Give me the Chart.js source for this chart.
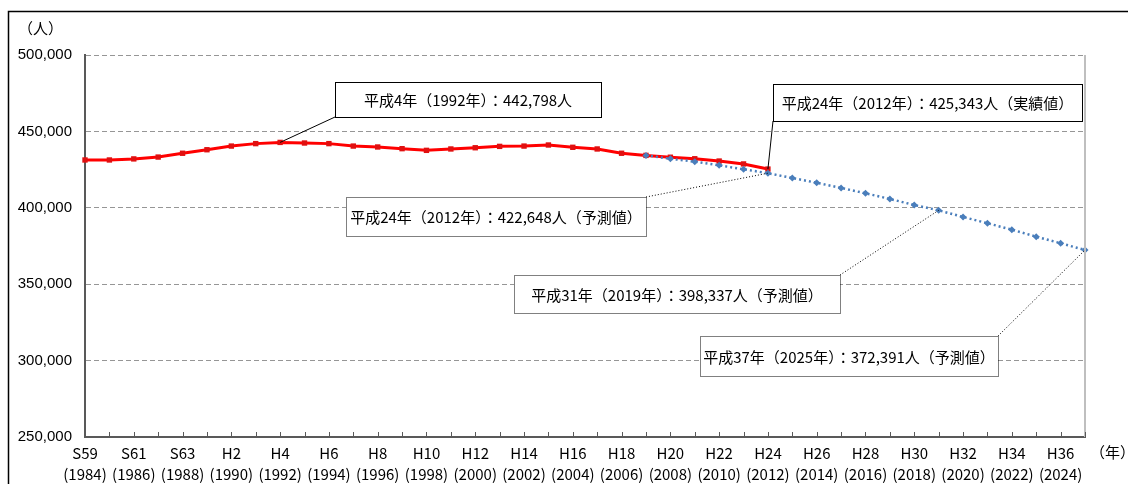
<!DOCTYPE html>
<html>
<head>
<meta charset="utf-8">
<script src="https://cdn.jsdelivr.net/npm/chart.js@4"></script>
<style>
  body { margin: 0; background: #fff; }
  #wrap { width: 1128px; height: 484px; }
</style>
</head>
<body>
<div id="wrap"><canvas id="pop_chart" width="1128" height="484"></canvas></div>
<script>
var years = [1984, 1985, 1986, 1987, 1988, 1989, 1990, 1991, 1992, 1993, 1994, 1995, 1996, 1997,
    1998, 1999, 2000, 2001, 2002, 2003, 2004, 2005, 2006, 2007, 2008, 2009, 2010, 2011, 2012,
    2013, 2014, 2015, 2016, 2017, 2018, 2019, 2020, 2021, 2022, 2023, 2024, 2025];
var eraLabels = ['S59', 'S60', 'S61', 'S62', 'S63', 'H1', 'H2', 'H3', 'H4', 'H5', 'H6', 'H7', 'H8', 'H9',
    'H10', 'H11', 'H12', 'H13', 'H14', 'H15', 'H16', 'H17', 'H18', 'H19', 'H20', 'H21', 'H22', 'H23', 'H24',
    'H25', 'H26', 'H27', 'H28', 'H29', 'H30', 'H31', 'H32', 'H33', 'H34', 'H35', 'H36', 'H37'];

// 実績値 1984-2012
var actual = [431300, 431300, 432000, 433200, 435700, 438000, 440400, 442000, 442798, 442400,
    442000, 440400, 439800, 438700, 437600, 438500, 439300, 440200, 440400, 441100, 439600,
    438500, 435700, 434300, 433100, 432100, 430600, 428700, 425343,
    null, null, null, null, null, null, null, null, null, null, null, null, null];

// 予測値 2007-2025
var forecast = [null, null, null, null, null, null, null, null, null, null, null, null,
    null, null, null, null, null, null, null, null, null, null, null,
    434300, 432100, 430200, 427800, 425200, 422648, 419500, 416400, 413000, 409500, 405800,
    401800, 398337, 394000, 389900, 385700, 381100, 376800, 372391];

var yTicks = [250000, 300000, 350000, 400000, 450000, 500000];

// callout boxes: text, box (canvas px), series, year index
var callouts = [
    { text: '平成4年（1992年）：442,798人', box: [335, 82, 601, 117], dash: false, series: actual, idx: 8, corner: 'bl' },
    { text: '平成24年（2012年）：425,343人（実績値）', box: [773, 84, 1082, 121], dash: false, series: actual, idx: 28, corner: 'bl' },
    { text: '平成24年（2012年）：422,648人（予測値）', box: [346, 197, 646, 236], dash: true, series: forecast, idx: 28, corner: 'tr' },
    { text: '平成31年（2019年）：398,337人（予測値）', box: [514, 275, 840, 313], dash: true, series: forecast, idx: 35, corner: 'tr' },
    { text: '平成37年（2025年）：372,391人（予測値）', box: [700, 336, 998, 376], dash: true, series: forecast, idx: 41, corner: 'tr' }
];

var jpFont = '"Noto Sans CJK JP", sans-serif';

var extrasPlugin = {
    id: 'extras',
    beforeDraw: function(chart) {
        var ctx = chart.ctx;
        ctx.save();
        ctx.fillStyle = '#fff';
        ctx.fillRect(0, 0, chart.width, chart.height);
        // outer frame
        ctx.strokeStyle = '#000';
        ctx.lineWidth = 1.5;
        ctx.beginPath();
        ctx.moveTo(8.5, chart.height);
        ctx.lineTo(8.5, 11.5);
        ctx.lineTo(chart.width, 11.5);
        ctx.stroke();
        ctx.restore();
    },
    afterDatasetsDraw: function(chart) {
        var ctx = chart.ctx;
        var area = chart.chartArea;
        var xs = chart.scales.x;
        var ys = chart.scales.y;
        ctx.save();
        // right border of plot
        ctx.strokeStyle = '#bfbfbf';
        ctx.lineWidth = 2;
        ctx.beginPath();
        ctx.moveTo(area.right, area.top);
        ctx.lineTo(area.right, area.bottom);
        ctx.stroke();
        // inner tick marks
        ctx.strokeStyle = '#595959';
        ctx.lineWidth = 1;
        for (var i = 1; i < years.length; i++) {
            var px = Math.round(xs.getPixelForValue(i)) + 0.5;
            ctx.beginPath();
            ctx.moveTo(px, area.bottom);
            ctx.lineTo(px, area.bottom - 5);
            ctx.stroke();
        }
        // axis titles
        ctx.fillStyle = '#000';
        ctx.font = '15px ' + jpFont;
        ctx.textAlign = 'left';
        ctx.textBaseline = 'middle';
        ctx.fillText('（人）', 18, 28);
        ctx.fillText('（年）', 1090, 452);
        // callouts
        callouts.forEach(function(c) {
            var b = c.box;
            var ax = xs.getPixelForValue(c.idx);
            var ay = ys.getPixelForValue(c.series[c.idx]);
            var sx = c.corner == 'bl' ? b[0] : b[2];
            var sy = c.corner == 'bl' ? b[3] : b[1];
            ctx.strokeStyle = '#000';
            ctx.lineWidth = 1;
            ctx.setLineDash(c.dash ? [1, 2] : []);
            ctx.beginPath();
            ctx.moveTo(sx, sy);
            ctx.lineTo(ax, ay);
            ctx.stroke();
            ctx.fillStyle = '#fff';
            ctx.fillRect(b[0], b[1], b[2] - b[0], b[3] - b[1]);
            ctx.strokeStyle = '#000';
            ctx.setLineDash(c.dash ? [1, 1] : []);
            ctx.strokeRect(b[0] + 0.5, b[1] + 0.5, b[2] - b[0], b[3] - b[1]);
            ctx.setLineDash([]);
            ctx.fillStyle = '#000';
            ctx.font = '15px ' + jpFont;
            ctx.textAlign = 'center';
            ctx.textBaseline = 'middle';
            ctx.fillText(c.text, (b[0] + b[2]) / 2, (b[1] + b[3]) / 2 + 1);
        });
        ctx.restore();
    }
};

var canvas = document.getElementById('pop_chart').getContext('2d');

var chart = new Chart(canvas, {
    type: 'line',
    data: {
        labels: years,
        datasets: [{
            label: '予測値',
            data: forecast,
            order: 0,
            borderColor: '#4a7ebb',
            backgroundColor: '#4a7ebb',
            borderWidth: 2.5,
            borderDash: [2, 3],
            pointStyle: 'rectRot',
            pointRadius: 3.5,
            pointBorderWidth: 0,
            fill: false,
            tension: 0
        }, {
            label: '実績値',
            data: actual,
            order: 1,
            borderColor: '#ff0000',
            backgroundColor: '#e01010',
            borderWidth: 3,
            pointStyle: 'rect',
            pointRadius: 3.8,
            pointBorderWidth: 0,
            fill: false,
            tension: 0
        }]
    },
    options: {
        responsive: false,
        animation: false,
        events: [],
        layout: {
            padding: { top: 55, right: 43, left: 0, bottom: 0 }
        },
        plugins: {
            legend: { display: false },
            tooltip: { enabled: false }
        },
        scales: {
            x: {
                type: 'category',
                offset: false,
                grid: { display: false, drawTicks: false },
                border: { display: true, color: '#595959', width: 2 },
                ticks: {
                    autoSkip: false,
                    maxRotation: 0,
                    padding: 5,
                    color: '#000',
                    font: { family: '"Noto Sans CJK JP"', size: 15, lineHeight: 1.45 },
                    callback: function(val, i) {
                        if (i % 2 == 0) {
                            return [eraLabels[i], '(' + years[i] + ')'];
                        }
                        return '';
                    }
                },
                afterFit: function(scale) { scale.height = 47; }
            },
            y: {
                min: 250000,
                max: 500000,
                afterBuildTicks: function(scale) {
                    scale.ticks = yTicks.map(function(v) { return { value: v }; });
                },
                grid: { color: '#969696', lineWidth: 1, drawTicks: false },
                border: { display: true, color: '#595959', width: 2, dash: [5, 3] },
                ticks: {
                    padding: 13,
                    color: '#000',
                    font: { family: '"Liberation Sans"', size: 15 },
                    callback: function(v) { return v.toLocaleString('en-US'); }
                },
                afterFit: function(scale) { scale.width = 85; }
            }
        }
    },
    plugins: [extrasPlugin]
});
</script>
</body>
</html>
